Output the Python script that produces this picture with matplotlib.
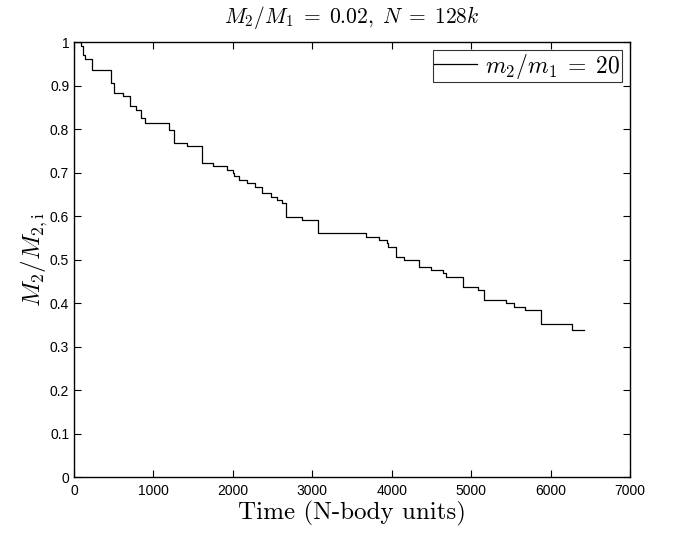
import matplotlib
matplotlib.use('Agg')
import matplotlib.pyplot as plt
import numpy as np

plt.rcParams['mathtext.fontset'] = 'cm'
plt.rcParams['font.family'] = ['Liberation Sans', 'DejaVu Sans']

# step times (N-body units) and mass fraction after each step
t_steps = [0, 84, 109, 138, 222, 462, 504, 613, 705, 781, 840, 894, 1200, 1259,
           1420, 1608, 1754, 1922, 1998, 2015, 2082, 2174, 2279, 2363, 2476,
           2552, 2615, 2669, 2867, 3076, 3676, 3844, 3945, 3957, 4050, 4155,
           4340, 4495, 4650, 4683, 4901, 5083, 5162, 5439, 5540, 5678, 5876,
           6266, 6421]
m_frac = [1.000, 0.992, 0.970, 0.961, 0.937, 0.906, 0.883, 0.876, 0.853, 0.844,
          0.825, 0.814, 0.799, 0.767, 0.760, 0.722, 0.715, 0.707, 0.700, 0.692,
          0.683, 0.677, 0.667, 0.654, 0.644, 0.638, 0.631, 0.598, 0.592, 0.560,
          0.552, 0.545, 0.539, 0.529, 0.506, 0.499, 0.483, 0.476, 0.470, 0.460,
          0.437, 0.430, 0.407, 0.399, 0.392, 0.384, 0.353, 0.337, 0.337]

x_ticks = np.arange(0, 7001, 1000)
y_ticks = np.round(np.arange(0, 1.01, 0.1), 1)
y_ticklabels = ['0', '0.1', '0.2', '0.3', '0.4', '0.5', '0.6', '0.7', '0.8', '0.9', '1']

fig = plt.figure(figsize=(6.73, 5.33), dpi=100)
ax = fig.add_axes([0.110, 0.105, 0.826, 0.816])

ax.plot(t_steps, m_frac, drawstyle='steps-post', color='black', lw=0.9,
        label=r'$m_2/m_1\;=\;20$')

ax.set_xlim(0, 7000)
ax.set_ylim(0, 1)
ax.set_xticks(x_ticks)
ax.set_yticks(y_ticks)
ax.set_yticklabels(y_ticklabels)
ax.tick_params(direction='in', top=True, right=True, labelsize=10, length=5,
               width=0.8)
ax.tick_params(axis='x', pad=5)
for s in ax.spines.values():
    s.set_linewidth(1.0)

ax.set_title(r'$M_2/M_1\;=\;0.02,\;N\;=\;128k$', fontsize=15.5, pad=14)
ax.set_xlabel('Time (N-body units)', family='cmr10', fontsize=18, labelpad=2)
ax.set_ylabel(r'$M_2/M_{2,\mathrm{i}}$', fontsize=18, labelpad=0)

leg = ax.legend(loc='upper right', fontsize=17, frameon=True, fancybox=False,
                edgecolor='black', handlelength=1.8, handletextpad=0.35,
                borderpad=0.05, borderaxespad=0.35)
leg.get_frame().set_linewidth(0.8)

fig.savefig('out.png', dpi=100)
